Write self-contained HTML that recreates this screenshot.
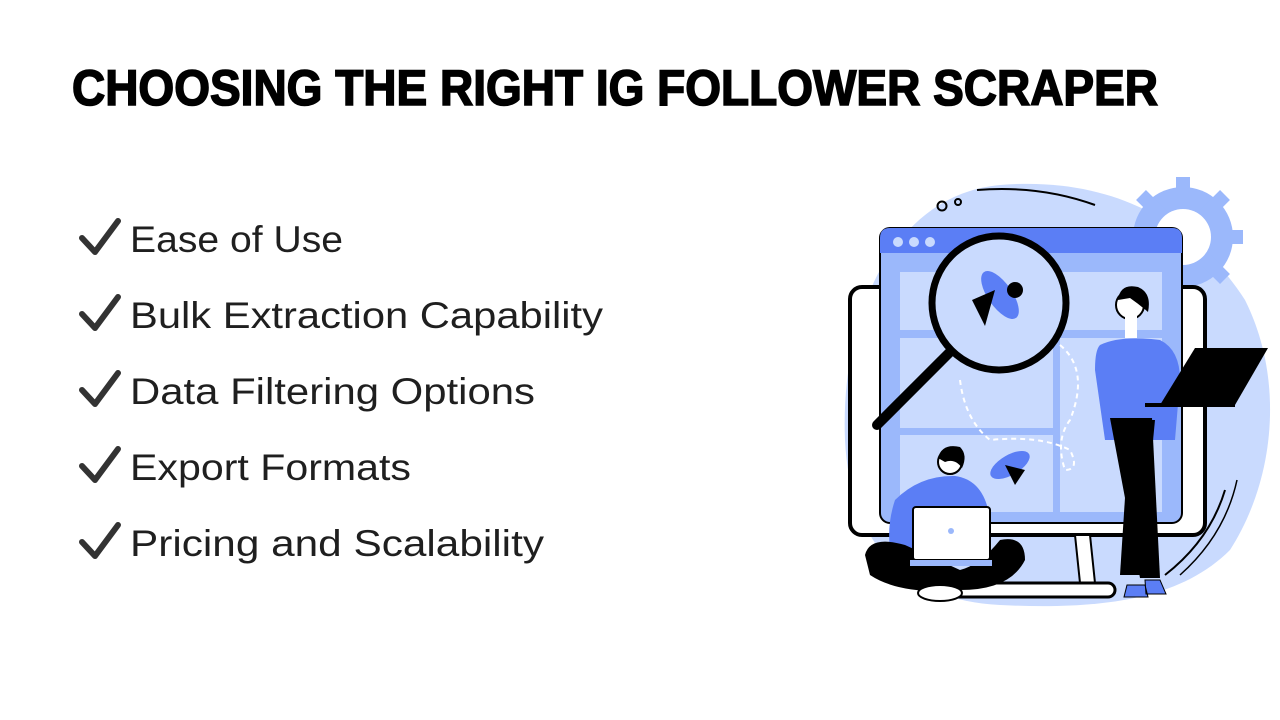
<!DOCTYPE html>
<html><head><meta charset="utf-8"><style>
html,body{margin:0;padding:0;background:#fff;}
svg{display:block;}
text{font-family:"Liberation Sans",sans-serif;}
</style></head><body>
<svg width="1280" height="720" viewBox="0 0 1280 720" xmlns="http://www.w3.org/2000/svg">
<rect width="1280" height="720" fill="#fff"/>
<text x="72" y="105" font-size="50" font-weight="bold" fill="#000" stroke="#000" stroke-width="1.6" textLength="1086" lengthAdjust="spacingAndGlyphs">CHOOSING THE RIGHT IG FOLLOWER SCRAPER</text>
<g fill="#1f1f1f" font-size="37">
<text x="130" y="252" textLength="213" lengthAdjust="spacingAndGlyphs">Ease of Use</text>
<text x="130" y="328" textLength="473" lengthAdjust="spacingAndGlyphs">Bulk Extraction Capability</text>
<text x="130" y="404" textLength="405" lengthAdjust="spacingAndGlyphs">Data Filtering Options</text>
<text x="130" y="480" textLength="281" lengthAdjust="spacingAndGlyphs">Export Formats</text>
<text x="130" y="556" textLength="414" lengthAdjust="spacingAndGlyphs">Pricing and Scalability</text>
</g>
<g fill="none" stroke="#333" stroke-width="6" stroke-linecap="round" stroke-linejoin="round">
<path d="M82 238 L95 252 L118 221"/>
<path d="M82 314 L95 328 L118 297"/>
<path d="M82 390 L95 404 L118 373"/>
<path d="M82 466 L95 480 L118 449"/>
<path d="M82 542 L95 556 L118 525"/>
</g>
<path d="M1000 185 C1120 175 1200 230 1245 300 C1285 380 1275 480 1230 550 C1180 600 1100 610 1000 605 C900 600 850 540 845 440 C840 320 890 195 1000 185 Z" fill="#c9dafe"/>
<g fill="#9bb8fb">
<circle cx="1183" cy="237" r="50"/>
<g stroke="#9bb8fb" stroke-width="14">
<line x1="1183" y1="177" x2="1183" y2="297"/><line x1="1123" y1="237" x2="1243" y2="237"/>
<line x1="1141" y1="195" x2="1225" y2="279"/><line x1="1225" y1="195" x2="1141" y2="279"/>
</g>
<circle cx="1183" cy="237" r="28" fill="#fff"/>
</g>
<path d="M977 190 Q1040 185 1095 205" stroke="#000" stroke-width="2" fill="none"/>
<circle cx="942" cy="206" r="4.5" stroke="#000" stroke-width="2" fill="none"/>
<circle cx="958" cy="202" r="3" stroke="#000" stroke-width="2" fill="none"/>
<rect x="850" y="287" width="355" height="248" rx="12" fill="#fff" stroke="#000" stroke-width="4"/>
<polygon points="1075,535 1090,535 1095,583 1080,583" fill="#fff" stroke="#000" stroke-width="2"/>
<rect x="935" y="583" width="180" height="14" rx="7" fill="#fff" stroke="#000" stroke-width="3"/>
<rect x="880" y="228" width="302" height="295" rx="10" fill="#9bb8fb" stroke="#000" stroke-width="2"/>
<path d="M880 253 V238 Q880 228 890 228 H1172 Q1182 228 1182 238 V253 Z" fill="#5b7ef5"/>
<circle cx="898" cy="242" r="5" fill="#c9dafe"/><circle cx="914" cy="242" r="5" fill="#c9dafe"/><circle cx="930" cy="242" r="5" fill="#c9dafe"/>
<g fill="#c9dafe">
<rect x="900" y="272" width="262" height="58"/>
<rect x="900" y="338" width="153" height="90"/>
<rect x="900" y="435" width="153" height="77"/>
<rect x="1060" y="338" width="102" height="174"/>
</g>
<path d="M960 380 Q965 420 990 440 Q1040 435 1070 450 Q1080 470 1065 470 Q1055 440 1070 420 Q1090 370 1060 345" stroke="#fff" stroke-width="2" stroke-dasharray="5,4" fill="none"/>
<line x1="950" y1="352" x2="877" y2="425" stroke="#000" stroke-width="10" stroke-linecap="round"/>
<circle cx="999" cy="303" r="67" fill="#c9dafe" stroke="#000" stroke-width="7"/>
<ellipse cx="1000" cy="295" rx="28" ry="12" transform="rotate(55 1000 295)" fill="#5b7ef5"/>
<path d="M972 300 L995 290 L985 326 Z" fill="#000"/>
<circle cx="1015" cy="290" r="8" fill="#000"/>
<ellipse cx="1010" cy="465" rx="22" ry="10" transform="rotate(-30 1010 465)" fill="#5b7ef5"/>
<path d="M1005 465 L1025 470 L1015 485 Z" fill="#000"/>
<circle cx="1130" cy="305" r="14" fill="#fff" stroke="#000" stroke-width="2"/>
<path d="M1118 300 Q1120 283 1138 287 Q1152 293 1148 312 Q1140 305 1130 298 Z" fill="#000"/>
<rect x="1125" y="316" width="12" height="22" fill="#fff"/>
<path d="M1100 345 Q1120 335 1160 340 Q1180 350 1180 380 L1175 440 L1105 440 L1095 370 Q1095 350 1100 345 Z" fill="#5b7ef5"/>
<path d="M1110 418 L1140 578 L1160 578 L1152 418 Z" fill="#000"/>
<path d="M1130 420 L1120 575 L1140 575 L1155 420 Z" fill="#000"/>
<path d="M1127 585 h18 l3 12 h-24 Z M1145 580 h15 l6 14 h-20 Z" fill="#5b7ef5" stroke="#000" stroke-width="1"/>
<polygon points="1195,348 1268,348 1235,405 1160,405" fill="#000"/>
<rect x="1145" y="403" width="90" height="4" fill="#000"/>
<circle cx="950" cy="462" r="12" fill="#fff" stroke="#000" stroke-width="2"/>
<path d="M938 458 Q942 443 960 447 Q968 455 962 468 Q955 458 945 462 Z" fill="#000"/>
<path d="M895 500 Q920 475 955 476 Q985 480 990 520 L990 560 L892 560 Q885 530 895 500 Z" fill="#5b7ef5"/>
<path d="M865 555 Q870 535 905 545 L960 570 Q980 565 1000 540 Q1025 535 1025 560 Q1010 590 960 590 Q900 595 870 575 Z" fill="#000"/>
<rect x="913" y="507" width="77" height="53" rx="3" fill="#fff" stroke="#000" stroke-width="2"/>
<circle cx="951" cy="531" r="3" fill="#9bb8fb"/>
<rect x="910" y="560" width="82" height="6" fill="#9bb8fb"/>
<ellipse cx="940" cy="593" rx="22" ry="8" fill="#fff" stroke="#000" stroke-width="2"/>
<path d="M1225 490 Q1210 540 1165 575" stroke="#000" stroke-width="2" fill="none"/>
<path d="M1237 480 Q1225 535 1180 575" stroke="#000" stroke-width="1.5" fill="none"/>
</svg>
</body></html>
